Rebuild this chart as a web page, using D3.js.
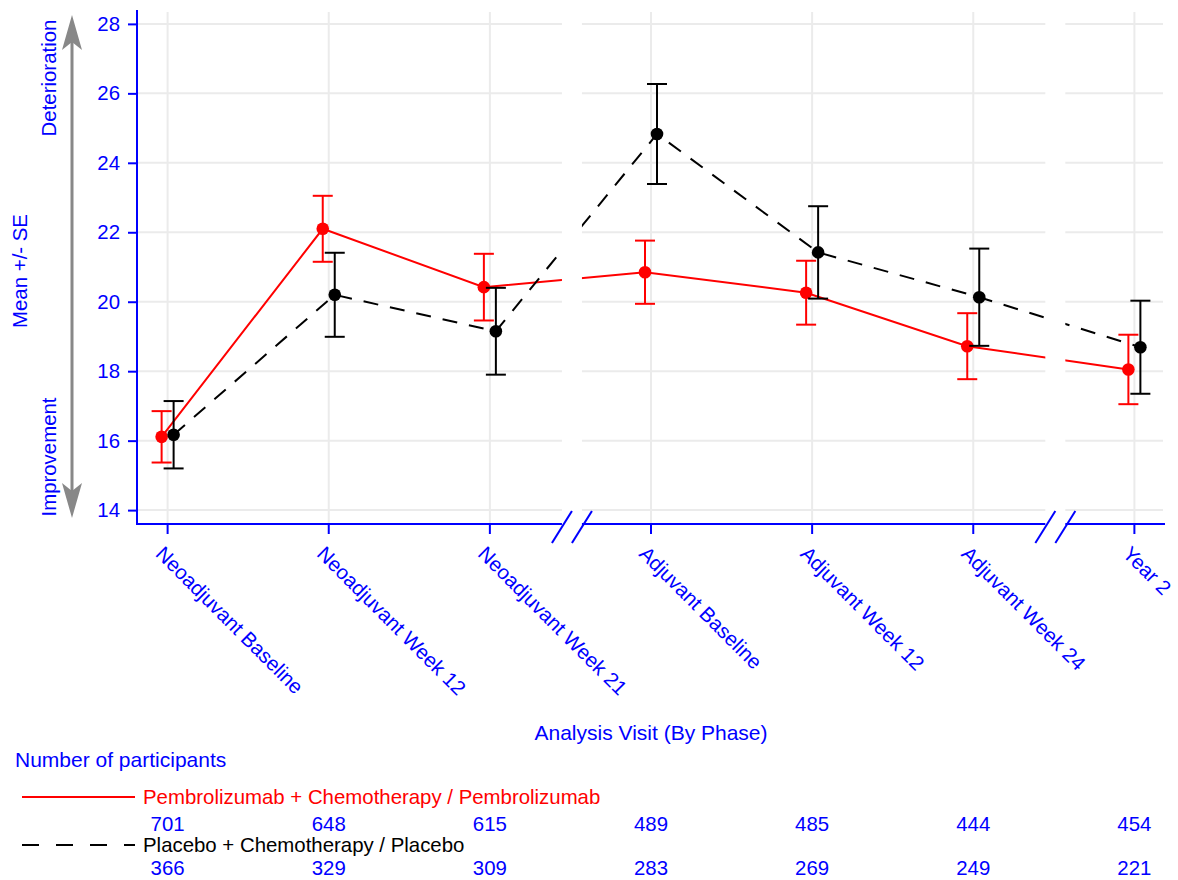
<!DOCTYPE html>
<html>
<head>
<meta charset="utf-8">
<script src="https://cdn.jsdelivr.net/npm/d3@7"></script>
<style>
  body { margin: 0; background: #fff; }
  svg { display: block; }
  text { font-family: "Liberation Sans", Arial, sans-serif; }
</style>
</head>
<body>
<svg id="chart" width="1178" height="880"></svg>
<script>
// Visits along the x axis (grouped by treatment phase)
const visits = ["Neoadjuvant Baseline", "Neoadjuvant Week 12", "Neoadjuvant Week 21",
                "Adjuvant Baseline", "Adjuvant Week 12", "Adjuvant Week 24", "Year 2"];

// Pembrolizumab + Chemotherapy / Pembrolizumab
const pembroMean = [16.11, 22.10, 20.42, 20.85, 20.26, 18.72, 18.05];
const pembroSE   = [0.74, 0.95, 0.96, 0.91, 0.92, 0.95, 1.00];
const pembroN    = [701, 648, 615, 489, 485, 444, 454];

// Placebo + Chemotherapy / Placebo
const placeboMean = [16.17, 20.20, 19.15, 24.83, 21.42, 20.13, 18.69];
const placeboSE   = [0.97, 1.21, 1.25, 1.44, 1.33, 1.40, 1.34];
const placeboN    = [366, 329, 309, 283, 269, 249, 221];

const yTicks = [14, 16, 18, 20, 22, 24, 26, 28];
// axis breaks sit between these visit indices (phase changes)
const breakAfter = [2, 5];

const legendPembro = "Pembrolizumab + Chemotherapy / Pembrolizumab";
const legendPlacebo = "Placebo + Chemotherapy / Placebo";

const BLUE = "#0000ff", RED = "#ff0000", BLACK = "#000000", GRID = "#ebebeb", ARROW = "#888888";
const FS = 20.4;

const svg = d3.select("#chart");
const plot = { left: 137, right: 1165, top: 10, bottom: 524 };

const x = d3.scalePoint().domain(visits).range([plot.left, plot.right]).padding(0.19);
const y = d3.scaleLinear().domain([13.6, 28.4]).range([plot.bottom, plot.top]);
const step = x.step();

// grid
const grid = svg.append("g");
grid.selectAll("line.h").data(yTicks).join("line")
  .attr("x1", plot.left).attr("x2", plot.right - 2)
  .attr("y1", d => y(d)).attr("y2", d => y(d))
  .attr("stroke", GRID).attr("stroke-width", 2);
grid.selectAll("line.v").data(visits).join("line")
  .attr("x1", d => x(d)).attr("x2", d => x(d))
  .attr("y1", plot.top + 2).attr("y2", plot.bottom)
  .attr("stroke", GRID).attr("stroke-width", 2);

// series
const series = [
  { mean: pembroMean, se: pembroSE, color: RED, dash: null, dx: -6 },
  { mean: placeboMean, se: placeboSE, color: BLACK, dash: "15,12", dx: 6 }
];

const line = d3.line();
series.forEach(s => {
  const pts = visits.map((v, i) => [x(v) + s.dx, y(s.mean[i])]);
  svg.append("path")
    .attr("d", line(pts))
    .attr("fill", "none")
    .attr("stroke", s.color)
    .attr("stroke-width", 2)
    .attr("stroke-dasharray", s.dash);
});

// white gaps at the phase breaks
const breakX = breakAfter.map(i => x(visits[i]) + step / 2 + 1.5);
svg.append("g").selectAll("rect").data(breakX).join("rect")
  .attr("x", d => d - 10).attr("width", 20)
  .attr("y", plot.top - 2).attr("height", plot.bottom - plot.top + 1)
  .attr("fill", "#fff");

// error bars and points
series.forEach(s => {
  const g = svg.append("g");
  visits.forEach((v, i) => {
    const cx = x(v) + s.dx;
    const lo = y(s.mean[i] - s.se[i]), hi = y(s.mean[i] + s.se[i]);
    g.append("line").attr("x1", cx).attr("x2", cx).attr("y1", lo).attr("y2", hi)
      .attr("stroke", s.color).attr("stroke-width", 2);
    [lo, hi].forEach(yy => g.append("line")
      .attr("x1", cx - 10).attr("x2", cx + 10).attr("y1", yy).attr("y2", yy)
      .attr("stroke", s.color).attr("stroke-width", 2));
    g.append("circle").attr("cx", cx).attr("cy", y(s.mean[i])).attr("r", 6.3)
      .attr("fill", s.color);
  });
});

// y axis
const yAxis = svg.append("g").attr("transform", `translate(${plot.left},0)`)
  .call(d3.axisLeft(y).tickValues(yTicks).tickSize(9).tickPadding(8).tickFormat(d3.format("d")));
yAxis.select(".domain").attr("stroke", BLUE).attr("stroke-width", 2)
  .attr("d", `M0,${plot.top}V${plot.bottom}`);
yAxis.selectAll(".tick line").attr("stroke", BLUE).attr("stroke-width", 2);
yAxis.selectAll(".tick text").attr("fill", BLUE).attr("font-size", FS)
  .style("font-family", '"Liberation Sans", Arial, sans-serif');

// x axis: segments between breaks
const segEdges = [plot.left - 1, ...breakX.flatMap(b => [b - 10, b + 10]), plot.right];
const xAxis = svg.append("g");
for (let k = 0; k < segEdges.length; k += 2) {
  xAxis.append("line").attr("x1", segEdges[k]).attr("x2", segEdges[k + 1])
    .attr("y1", plot.bottom).attr("y2", plot.bottom)
    .attr("stroke", BLUE).attr("stroke-width", 2);
}
breakX.forEach(b => {
  [b - 10, b + 10].forEach(cx => xAxis.append("line")
    .attr("x1", cx - 10).attr("y1", plot.bottom + 19)
    .attr("x2", cx + 10).attr("y2", plot.bottom - 13)
    .attr("stroke", BLUE).attr("stroke-width", 2));
});
xAxis.selectAll("line.tick").data(visits).join("line")
  .attr("x1", d => x(d)).attr("x2", d => x(d))
  .attr("y1", plot.bottom).attr("y2", plot.bottom + 10)
  .attr("stroke", BLUE).attr("stroke-width", 2);
xAxis.selectAll("text.tick").data(visits).join("text")
  .attr("transform", d => `translate(${x(d) - 13},${plot.bottom + 31}) rotate(45)`)
  .attr("fill", BLUE).attr("font-size", FS)
  .text(d => d);

// axis titles
svg.append("text").attr("x", 651).attr("y", 740).attr("text-anchor", "middle")
  .attr("fill", BLUE).attr("font-size", 21).text("Analysis Visit (By Phase)");
svg.append("text").attr("transform", "translate(27,271) rotate(-90)").attr("text-anchor", "middle")
  .attr("fill", BLUE).attr("font-size", FS).text("Mean +/- SE");
svg.append("text").attr("transform", "translate(56,78) rotate(-90)").attr("text-anchor", "middle")
  .attr("fill", BLUE).attr("font-size", FS).text("Deterioration");
svg.append("text").attr("transform", "translate(56,457) rotate(-90)").attr("text-anchor", "middle")
  .attr("fill", BLUE).attr("font-size", FS).text("Improvement");

// direction arrow
svg.append("line").attr("x1", 72).attr("x2", 72).attr("y1", 40).attr("y2", 492)
  .attr("stroke", ARROW).attr("stroke-width", 3);
svg.append("path").attr("d", "M72,15 L82,50 L72,42 L62,50 Z").attr("fill", ARROW);
svg.append("path").attr("d", "M72,518 L82,483 L72,491 L62,483 Z").attr("fill", ARROW);

// participants table
svg.append("text").attr("x", 15).attr("y", 767).attr("fill", BLUE).attr("font-size", 21)
  .text("Number of participants");

svg.append("line").attr("x1", 22).attr("x2", 135).attr("y1", 797).attr("y2", 797)
  .attr("stroke", RED).attr("stroke-width", 2);
svg.append("text").attr("x", 143).attr("y", 804).attr("fill", RED).attr("font-size", FS)
  .text(legendPembro);
svg.append("g").selectAll("text").data(pembroN).join("text")
  .attr("x", (d, i) => x(visits[i])).attr("y", 831).attr("text-anchor", "middle")
  .attr("fill", BLUE).attr("font-size", FS).text(d => d);

svg.append("line").attr("x1", 22).attr("x2", 135).attr("y1", 845).attr("y2", 845)
  .attr("stroke", BLACK).attr("stroke-width", 2).attr("stroke-dasharray", "17,17");
svg.append("text").attr("x", 143).attr("y", 852).attr("fill", BLACK).attr("font-size", FS)
  .text(legendPlacebo);
svg.append("g").selectAll("text").data(placeboN).join("text")
  .attr("x", (d, i) => x(visits[i])).attr("y", 875).attr("text-anchor", "middle")
  .attr("fill", BLUE).attr("font-size", FS).text(d => d);
</script>
</body>
</html>
